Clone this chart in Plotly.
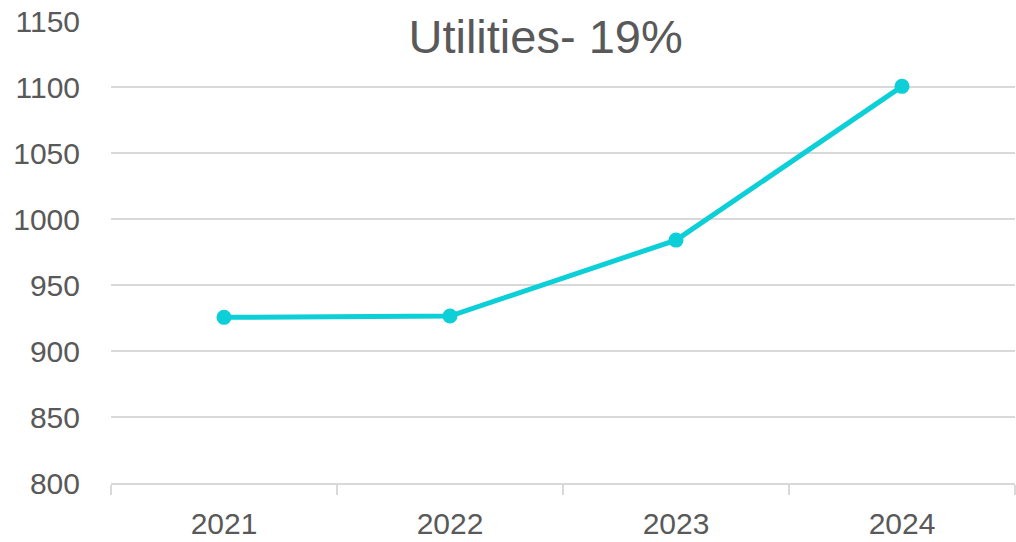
import plotly.graph_objects as go

years = ["2021", "2022", "2023", "2024"]
values = [925.5, 926.5, 984, 1100.5]
title_text = "Utilities- 19%"
y_ticks = [800, 850, 900, 950, 1000, 1050, 1100, 1150]

grey = "#595959"
line_color = "#0CCFD8"

fig = go.Figure()
fig.add_trace(go.Scatter(
    x=years, y=values, mode="lines+markers",
    line=dict(color=line_color, width=5),
    marker=dict(color=line_color, size=15),
    showlegend=False,
))

fig.update_layout(
    width=1016, height=542,
    margin=dict(l=111, r=1, t=21, b=59),
    paper_bgcolor="white", plot_bgcolor="white",
    font=dict(family="Liberation Sans, Arial, sans-serif", color=grey),
    title=dict(text=title_text, x=0.537, xanchor="center", y=1 - 37/542,
               yanchor="middle", yref="container",
               font=dict(size=47, color=grey)),
)
fig.update_xaxes(
    type="category", range=[-0.5, 3.5], tickson="boundaries",
    ticks="outside", ticklen=10, tickwidth=2, tickcolor="#d9d9d9",
    showline=True, linecolor="#d9d9d9", linewidth=2,
    showgrid=False, tickfont=dict(size=30, color=grey),
    ticklabelstandoff=13,
)
fig.update_yaxes(
    range=[800, 1150], tickvals=y_ticks,
    showgrid=True, gridcolor="#d9d9d9", gridwidth=2,
    zeroline=False, showline=False,
    tickfont=dict(size=30, color=grey), ticklabelstandoff=30,
)

fig.write_html(
    "out.html",
    config={"displayModeBar": False},
    post_script="document.body.style.margin='0';document.body.style.overflow='hidden';",
)
